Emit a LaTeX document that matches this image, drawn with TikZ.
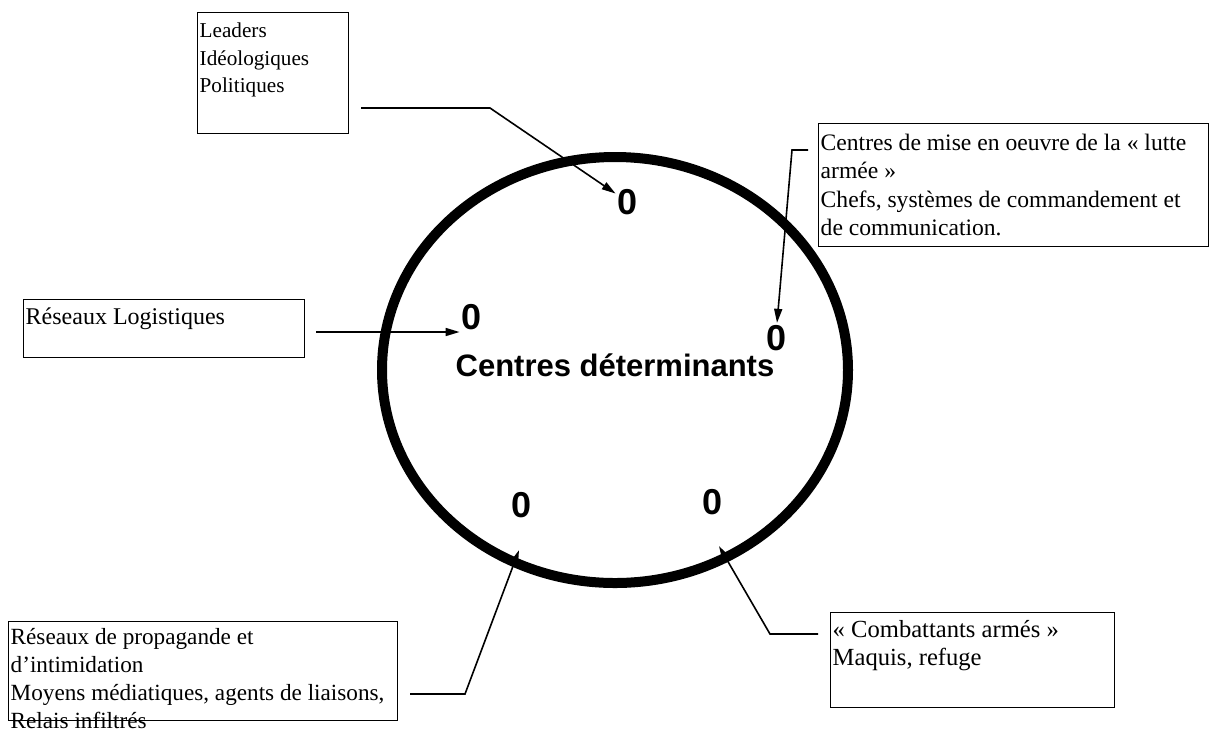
\documentclass[tikz,border=0pt]{standalone}
\usepackage{fontspec}
\setmainfont{Liberation Serif}
\newfontfamily\arialfont{Liberation Sans}
\usetikzlibrary{shapes.geometric, arrows.meta}

\begin{document}
\begin{tikzpicture}[x=0.5pt, y=-0.5pt, font=\fontsize{12}{14}\selectfont]
		\tikzstyle{callout} = [rectangle, draw=black, line width=0.7pt, anchor=north west, align=flush left, inner xsep=1pt, inner ysep=1.5pt, text height=11pt]
		
		\tikzstyle{marker} = [inner sep=1pt, font=\arialfont\bfseries\fontsize{18}{18}\selectfont]
		
		\tikzstyle{arrow} = [-{Triangle[length=7pt,width=4pt]}, line width=0.8pt]
		
		\useasboundingbox (0,0) rectangle (1210,735);
		
		% The big ellipse and its title
		\node (core) [ellipse, draw=black, line width=5pt, minimum width=233pt, minimum height=213pt, inner sep=0pt] at (615,370) {};
		\node (title) [font=\arialfont\bfseries\fontsize{15.5}{18}\selectfont] at (615,365) {Centres déterminants};
		
		% Markers inside the ellipse
		\node (m1) [marker] at (628,202) {0};
		\node (m2) [marker] at (472,317) {0};
		\node (m3) [marker] at (777,338) {0};
		\node (m4) [marker] at (522,505) {0};
		\node (m5) [marker] at (713,502) {0};
		
		% Text boxes
		\node (leaders) [callout, text width=73.5pt, text depth=46.5pt, font=\fontsize{10.6}{13.75}\selectfont] at (197,12) {Leaders\\Idéologiques\\Politiques};
		\node (lutte) [callout, text width=193pt, text depth=46.5pt, text height=12pt, font=\fontsize{11.8}{14.1}\selectfont] at (818,123) {Centres de mise en oeuvre de la « lutte\\armée »\\Chefs, systèmes de commandement et\\de communication.};
		\node (logist) [callout, text width=138.5pt, text depth=15pt] at (23,299) {Réseaux Logistiques};
		\node (propa) [callout, text width=192.5pt, text depth=36.5pt, text height=10pt, font=\fontsize{11.6}{14}\selectfont] at (8,621) {Réseaux de propagande et\\d’intimidation\\Moyens médiatiques, agents de liaisons,\\Relais infiltrés};
		\node (combat) [callout, text width=140pt, text depth=33.5pt, font=\fontsize{12.3}{14}\selectfont] at (830,612) {« Combattants armés »\\Maquis, refuge};
		
		% Free ends of the connectors
		\coordinate (c1) at (361,108);
		\coordinate (c2) at (316,332);
		\coordinate (c3) at (808,150);
		\coordinate (c4) at (410,694);
		\coordinate (c5) at (818,634);
		\coordinate (t4) at ([xshift=-1.5pt, yshift=-15pt]m4.south);
		\coordinate (t5) at ([xshift=3pt, yshift=-14.5pt]m5.south);
		
		% Arrows
		\draw [arrow] (c1) -- ++(129,0) -- (m1);
		\draw [arrow] (c2) -- (c2 -| m2.west);
		\draw [arrow] (c3) -- ++(-16,0) -- (m3.north);
		\draw [arrow] (c4) -- ++(55,0) -- (t4);
		\draw [arrow] (c5) -- ++(-48,0) -- (t5);
		
\end{tikzpicture}
\end{document}
